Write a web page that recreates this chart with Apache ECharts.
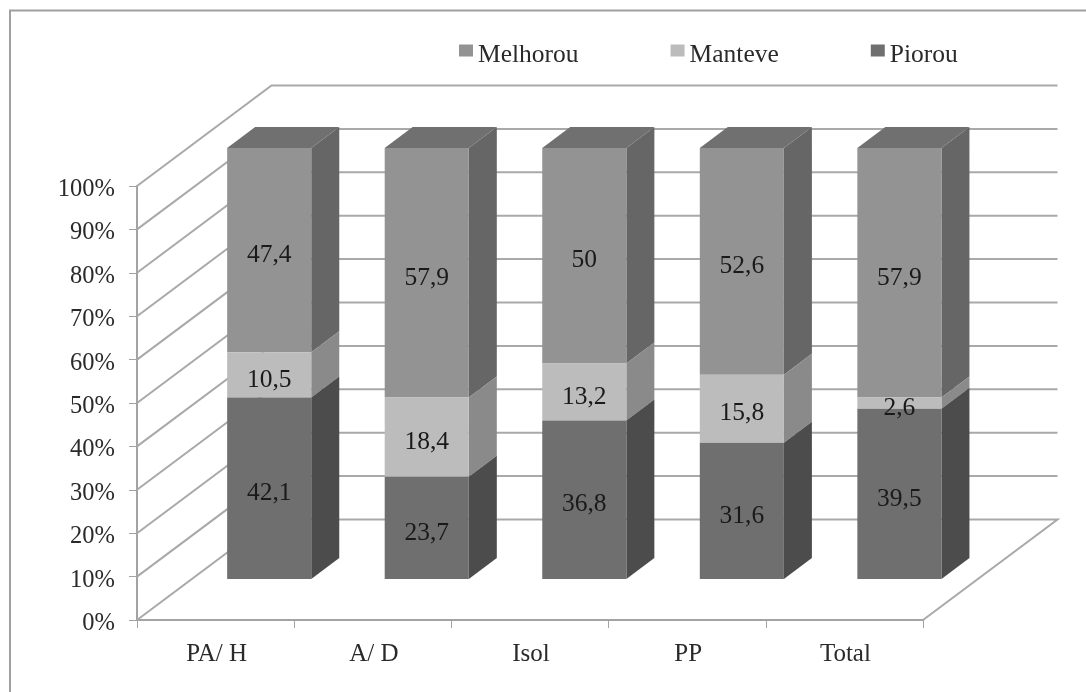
<!DOCTYPE html>
<html><head><meta charset="utf-8">
<style>html,body{margin:0;padding:0;background:#fff}#c{width:1086px;height:692px}</style>
<script src="https://cdn.jsdelivr.net/npm/echarts@6/dist/echarts.min.js"></script>
</head><body><div id="c"></div>
<script>
const categories = ['PA/ H', 'A/ D', 'Isol', 'PP', 'Total'];
const piorou = [42.1, 23.7, 36.8, 31.6, 39.5];
const manteve = [10.5, 18.4, 13.2, 15.8, 2.6];
const melhorou = [47.4, 57.9, 50, 52.6, 57.9];
const wallTicks = [0, 10, 20, 30, 40, 50, 60, 70, 80, 90, 100];

const FONT = '"Liberation Serif","Times New Roman",serif';
const WALL = [134.5, -100.5];   // back wall depth offset
const BAR = [53.6, -41];    // bar front plane offset from axis plane
const DEPTH = [28, -21];    // bar depth
const BAR_W = 0.535, BAR_SCALE = 0.993, BAR_SPREAD = 0.35;
const LINE = { stroke: '#a9a9a9', lineWidth: 2, fill: null };

function wallItem(params, api) {
  const v = api.value(0);
  const half = api.size([1, 0])[0] / 2;
  const a = api.coord([0, v]), b = api.coord([categories.length - 1, v]);
  const x0 = a[0] - half, x1 = b[0] + half, y = a[1];
  const pts = [[x0, y], [x0 + WALL[0], y + WALL[1]], [x1 + WALL[0], y + WALL[1]]];
  if (v === 0) pts.push([x1, y]);
  return { type: 'polyline', silent: true, shape: { points: pts }, style: LINE };
}

function barRenderer(front, side, isTop) {
  return function (params, api) {
    const i = api.value(0), s = api.value(1), e = api.value(2), val = api.value(3);
    const base = api.coord([i, 0])[1];
    const w = api.size([1, 0])[0] * BAR_W;
    const cx = api.coord([i, 0])[0] + BAR[0] + i * BAR_SPREAD;
    const yAt = v => base + BAR[1] + (api.coord([i, v])[1] - base) * BAR_SCALE;
    const x0 = cx - w / 2, x1 = cx + w / 2, y0 = yAt(s), y1 = yAt(e);
    const dx = DEPTH[0], dy = DEPTH[1];
    const kids = [
      { type: 'polygon', shape: { points: [[x1, y0], [x1 + dx, y0 + dy], [x1 + dx, y1 + dy], [x1, y1]] }, style: { fill: side } },
      { type: 'rect', shape: { x: x0, y: y1, width: w, height: y0 - y1 }, style: { fill: front } }
    ];
    if (isTop) kids.push({ type: 'polygon', shape: { points: [[x0, y1], [x0 + dx, y1 + dy], [x1 + dx, y1 + dy], [x1, y1]] }, style: { fill: '#707070' } });
    kids.push({ type: 'text', z2: 10, style: {
      text: String(val).replace('.', ','), x: cx, y: (y0 + y1) / 2 + 5,
      align: 'center', verticalAlign: 'middle', fill: '#1a1a1a', font: '25.5px ' + FONT } });
    return { type: 'group', children: kids };
  };
}

function stacked(values, below) {
  return values.map((v, i) => {
    const s = below.reduce((t, arr) => t + arr[i], 0);
    return [i, s, s + v, v];
  });
}

const chart = echarts.init(document.getElementById('c'), null, { renderer: 'canvas' });
const axisLine = { lineStyle: { color: '#a3a3a3', width: 2 } };
const custom = (name, color, side, isTop, data) => ({
  type: 'custom', name, z: 5, clip: false, itemStyle: { color },
  encode: { x: 0, y: [1, 2] }, data, renderItem: barRenderer(color, side, isTop)
});
chart.setOption({
  animation: false,
  backgroundColor: '#fff',
  grid: { left: 137, right: 163, top: 186, bottom: 72, containLabel: false },
  legend: {
    left: 454, top: 37, itemWidth: 14, itemHeight: 12, itemGap: 92, icon: 'rect',
    data: ['Melhorou', 'Manteve', 'Piorou'], selectedMode: false,
    formatter: '{a|{name}}',
    textStyle: { fontFamily: FONT, fontSize: 25.5, color: '#2a2a2a',
      rich: { a: { fontFamily: FONT, fontSize: 25.5, color: '#2a2a2a', padding: [9, 0, 0, 0] } } }
  },
  xAxis: {
    type: 'category', data: categories, boundaryGap: true,
    axisLine: { show: true, ...axisLine }, axisTick: { show: true, alignWithLabel: false, length: 8, lineStyle: { color: '#a3a3a3', width: 1 } },
    axisLabel: { fontFamily: FONT, fontSize: 25, color: '#2a2a2a', margin: 22, padding: [0, 0, 0, 2] }
  },
  yAxis: {
    type: 'value', min: 0, max: 100, interval: 10,
    splitLine: { show: false },
    axisLine: { show: true, ...axisLine }, axisTick: { show: true, length: 8, lineStyle: { color: '#a3a3a3', width: 1 } },
    axisLabel: { fontFamily: FONT, fontSize: 24.5, color: '#2a2a2a', margin: 22, formatter: '{value}%', verticalAlign: 'top', lineHeight: 7 }
  },
  graphic: [{ type: 'polyline', silent: true, z: -1,
    shape: { points: [[10, 692], [10, 10.5], [1086, 10.5]] },
    style: { fill: null, stroke: '#a0a0a0', lineWidth: 2 } }],
  series: [
    { type: 'custom', name: 'wall', z: 1, clip: false, encode: { y: 0 }, silent: true,
      coordinateSystem: 'cartesian2d',
      data: wallTicks.map(v => [v]), renderItem: wallItem },
    custom('Melhorou', '#939393', '#666666', true, stacked(melhorou, [piorou, manteve])),
    custom('Manteve', '#bcbcbc', '#8a8a8a', false, stacked(manteve, [piorou])),
    custom('Piorou', '#6f6f6f', '#4c4c4c', false, stacked(piorou, []))
  ]
});
</script></body></html>
